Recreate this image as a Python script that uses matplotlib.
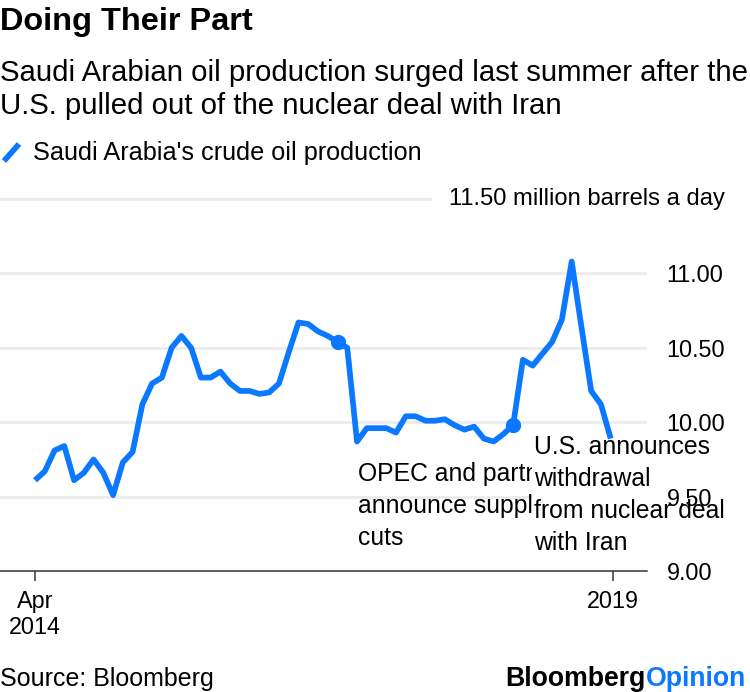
import matplotlib
matplotlib.use('Agg')
import matplotlib.pyplot as plt
from matplotlib import transforms

# monthly crude output, million barrels a day, Apr 2014 .. Mar 2019
production = [
    9.61, 9.67, 9.81, 9.84, 9.61, 9.66, 9.75, 9.66, 9.51, 9.73,
    9.80, 10.12, 10.26, 10.30, 10.50, 10.58, 10.50, 10.30, 10.30, 10.34,
    10.26, 10.21, 10.21, 10.19, 10.20, 10.26, 10.47, 10.67, 10.66, 10.61,
    10.58, 10.54, 10.50, 9.87, 9.96, 9.96, 9.96, 9.93, 10.04, 10.04,
    10.01, 10.01, 10.02, 9.98, 9.95, 9.97, 9.89, 9.87, 9.92, 9.98,
    10.42, 10.38, 10.46, 10.54, 10.69, 11.08, 10.64, 10.21, 10.12, 9.89,
]
months = list(range(len(production)))
event_months = [31, 49]  # Nov 2016 OPEC cuts, May 2018 U.S. withdrawal
event_labels = ['OPEC and partners\nannounce supply\ncuts',
                'U.S. announces\nwithdrawal\nfrom nuclear deal\nwith Iran']
y_ticks = [9.0, 9.5, 10.0, 10.5, 11.0]
x_tick_pos = [0, 59.2]
x_tick_labels = ['Apr\n2014', '2019']

BLUE = '#0a78ff'
W, H = 750, 692

plt.rcParams['font.family'] = ['Liberation Sans', 'DejaVu Sans']


def fx(x):
    return x / W


def fy(y):
    return 1 - y / H


fig = plt.figure(figsize=(W / 100, H / 100), dpi=100)
ax = fig.add_axes([0, fy(571), fx(647), (571 - 199) / H])
ax.set_axisbelow(False)

ax.set_xlim(-3.59, 62.72)
ax.set_ylim(9.0, 11.5)

# gridlines
for v in y_ticks[1:]:
    ax.axhline(v, color='#ebebeb', lw=2, zorder=1)
ax.axhline(11.5, xmax=430 / 647, color='#ebebeb', lw=2, zorder=1, clip_on=False)

ax.plot(months, production, color=BLUE, lw=4.1, solid_joinstyle='round',
        solid_capstyle='butt', zorder=3)
ax.plot(event_months, [production[m] for m in event_months], 'o', color=BLUE,
        ms=10, zorder=4)

# annotations
ax.text(33.1, 9.735, event_labels[0], fontsize=17.8, va='top', ha='left',
        linespacing=1.42, zorder=1.5)
ax.text(51.1, 9.915, event_labels[1], fontsize=17.8, va='top', ha='left',
        linespacing=1.42, zorder=1.6, clip_on=False,
        bbox=dict(boxstyle='square,pad=0.08', fc='white', ec='none'))

for s in ['top', 'left', 'right']:
    ax.spines[s].set_visible(False)
ax.spines['bottom'].set_color('#333333')
ax.spines['bottom'].set_linewidth(1.1)

ax.set_xticks(x_tick_pos)
ax.set_xticklabels(x_tick_labels, fontsize=16.8, linespacing=1.2)
ax.tick_params(axis='x', length=7.5, width=1.1, color='#333333', pad=6)

ax.yaxis.tick_right()
ax.set_yticks(y_ticks)
ax.set_yticklabels([f'{v:.2f}' for v in y_ticks], fontsize=16.8)
ax.tick_params(axis='y', length=0, pad=14.2)
ax.text(725 / 647, 11.5, '11.50 million barrels a day', fontsize=17.1,
        ha='right', va='center', transform=transforms.blended_transform_factory(
            ax.transAxes, ax.transData), clip_on=False)

# header
fig.text(0, fy(30), 'Doing Their Part', fontsize=23.4, fontweight='bold',
         va='baseline')
fig.text(0, fy(81), 'Saudi Arabian oil production surged last summer after the',
         fontsize=21.2, va='baseline')
fig.text(0, fy(114), 'U.S. pulled out of the nuclear deal with Iran',
         fontsize=21.2, va='baseline')

# legend
fig.add_artist(plt.Line2D([fx(4), fx(19)], [fy(161), fy(144)], color=BLUE,
                          lw=4.1, solid_capstyle='butt'))
fig.text(fx(33), fy(160), "Saudi Arabia's crude oil production", fontsize=18.2,
         va='baseline')

# footer
fig.text(0, fy(686), 'Source: Bloomberg', fontsize=18, va='baseline')
fig.canvas.draw()
r = fig.canvas.get_renderer()
op = fig.text(fx(746), fy(686), 'Opinion', fontsize=19.2, fontweight='bold',
              color=BLUE, ha='right', va='baseline')
bb = op.get_window_extent(r)
fig.text(bb.x0 / W, fy(686), 'Bloomberg', fontsize=19.2, fontweight='bold',
         color='black', ha='right', va='baseline')

fig.savefig('out.png', dpi=100)
